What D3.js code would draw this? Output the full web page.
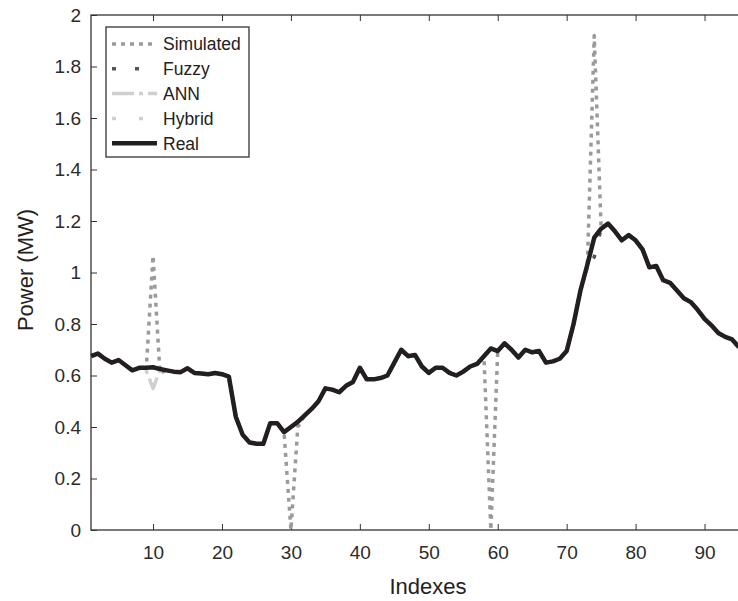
<!DOCTYPE html>
<html lang="en">
<head>
    <meta charset="UTF-8">
    <title>Power by index</title>
    <script src="https://d3js.org/d3.v7.min.js"></script>
    <style>
        body {
            margin: 0;
            background: #fff;
            font-family: "Liberation Sans", Arial, sans-serif;
        }
        .tick text {
            font-size: 19px;
            fill: #2b2b2b;
        }
        .tick line {
            stroke: #333;
        }
    </style>
</head>
<body>
    <div id="chart"></div>

    <script>
        // data (index 1..95)
        const indexes = d3.range(1, 96);

        const real = [
            0.675, 0.685, 0.665, 0.65, 0.66, 0.64, 0.62, 0.63, 0.63, 0.632,
            0.625, 0.62, 0.615, 0.613, 0.628, 0.61, 0.608, 0.605, 0.61, 0.605,
            0.596, 0.44, 0.37, 0.34, 0.335, 0.335, 0.415, 0.415, 0.38, 0.40,
            0.42, 0.445, 0.47, 0.50, 0.55, 0.545, 0.535, 0.56, 0.575, 0.63,
            0.585, 0.585, 0.59, 0.60, 0.65, 0.70, 0.675, 0.68, 0.635, 0.61,
            0.63, 0.63, 0.61, 0.60, 0.615, 0.635, 0.645, 0.675, 0.705, 0.695,
            0.725, 0.70, 0.67, 0.70, 0.69, 0.695, 0.65, 0.655, 0.665, 0.695,
            0.80, 0.93, 1.03, 1.135, 1.17, 1.19, 1.16, 1.125, 1.145, 1.125,
            1.09, 1.02, 1.025, 0.97, 0.96, 0.93, 0.90, 0.885, 0.855, 0.82,
            0.795, 0.765, 0.75, 0.74, 0.71
        ];

        const simulated = [
            0.675, 0.685, 0.665, 0.65, 0.66, 0.64, 0.62, 0.63, 0.62, 1.065,
            0.61, 0.62, 0.615, 0.613, 0.628, 0.61, 0.608, 0.605, 0.61, 0.605,
            0.596, 0.44, 0.37, 0.34, 0.335, 0.335, 0.415, 0.415, 0.38, 0.0,
            0.40, 0.445, 0.47, 0.50, 0.55, 0.545, 0.535, 0.56, 0.575, 0.63,
            0.585, 0.585, 0.59, 0.60, 0.65, 0.70, 0.675, 0.68, 0.635, 0.61,
            0.63, 0.63, 0.61, 0.60, 0.615, 0.635, 0.645, 0.675, 0.0, 0.695,
            0.725, 0.70, 0.67, 0.70, 0.69, 0.695, 0.65, 0.655, 0.665, 0.695,
            0.80, 0.93, 1.02, 1.92, 1.17, 1.19, 1.16, 1.125, 1.145, 1.125,
            1.09, 1.02, 1.025, 0.97, 0.96, 0.93, 0.90, 0.885, 0.855, 0.82,
            0.795, 0.765, 0.75, 0.74, 0.71
        ];

        const fuzzy = [
            0.675, 0.685, 0.665, 0.65, 0.66, 0.64, 0.62, 0.63, 0.63, 0.632,
            0.625, 0.62, 0.615, 0.613, 0.628, 0.61, 0.608, 0.605, 0.61, 0.605,
            0.596, 0.44, 0.37, 0.34, 0.335, 0.335, 0.415, 0.415, 0.38, 0.40,
            0.42, 0.445, 0.47, 0.50, 0.55, 0.545, 0.535, 0.56, 0.575, 0.63,
            0.585, 0.585, 0.59, 0.60, 0.65, 0.70, 0.675, 0.68, 0.635, 0.61,
            0.63, 0.63, 0.61, 0.60, 0.615, 0.635, 0.645, 0.675, 0.705, 0.695,
            0.725, 0.70, 0.67, 0.70, 0.69, 0.695, 0.65, 0.655, 0.665, 0.695,
            0.80, 0.93, 1.03, 1.06, 1.17, 1.19, 1.16, 1.125, 1.145, 1.125,
            1.09, 1.02, 1.025, 0.97, 0.96, 0.93, 0.90, 0.885, 0.855, 0.82,
            0.795, 0.765, 0.75, 0.74, 0.71
        ];

        const ann = [
            0.675, 0.685, 0.665, 0.65, 0.66, 0.64, 0.62, 0.63, 0.62, 0.55,
            0.62, 0.62, 0.615, 0.613, 0.628, 0.61, 0.608, 0.605, 0.61, 0.605,
            0.596, 0.44, 0.37, 0.34, 0.335, 0.335, 0.415, 0.415, 0.38, 0.40,
            0.42, 0.445, 0.47, 0.50, 0.55, 0.545, 0.535, 0.56, 0.575, 0.63,
            0.585, 0.585, 0.59, 0.60, 0.65, 0.70, 0.675, 0.68, 0.635, 0.61,
            0.63, 0.63, 0.61, 0.60, 0.615, 0.635, 0.645, 0.675, 0.705, 0.695,
            0.725, 0.70, 0.67, 0.70, 0.69, 0.695, 0.65, 0.655, 0.665, 0.695,
            0.80, 0.93, 1.03, 1.135, 1.17, 1.19, 1.16, 1.125, 1.145, 1.125,
            1.09, 1.02, 1.025, 0.97, 0.96, 0.93, 0.90, 0.885, 0.855, 0.82,
            0.795, 0.765, 0.75, 0.74, 0.71
        ];

        const hybrid = [
            0.675, 0.685, 0.665, 0.65, 0.66, 0.64, 0.62, 0.63, 0.63, 0.632,
            0.625, 0.62, 0.615, 0.613, 0.628, 0.61, 0.608, 0.605, 0.61, 0.605,
            0.596, 0.44, 0.37, 0.34, 0.335, 0.335, 0.415, 0.415, 0.38, 0.40,
            0.42, 0.445, 0.47, 0.50, 0.55, 0.545, 0.535, 0.56, 0.575, 0.63,
            0.585, 0.585, 0.59, 0.60, 0.65, 0.70, 0.675, 0.68, 0.635, 0.61,
            0.63, 0.63, 0.61, 0.60, 0.615, 0.635, 0.645, 0.675, 0.705, 0.695,
            0.725, 0.70, 0.67, 0.70, 0.69, 0.695, 0.65, 0.655, 0.665, 0.695,
            0.80, 0.93, 1.03, 1.135, 1.17, 1.19, 1.16, 1.125, 1.145, 1.125,
            1.09, 1.02, 1.025, 0.97, 0.96, 0.93, 0.90, 0.885, 0.855, 0.82,
            0.795, 0.765, 0.75, 0.74, 0.71
        ];

        const xTicks = [10, 20, 30, 40, 50, 60, 70, 80, 90];
        const yTicks = [0, 0.2, 0.4, 0.6, 0.8, 1, 1.2, 1.4, 1.6, 1.8, 2];

        // series, in drawing order (Real on top)
        const series = [
            { name: "Simulated", values: simulated, color: "#9a9a9a", width: 3.5, dash: "4,5" },
            { name: "Fuzzy", values: fuzzy, color: "#555", width: 3.5, dash: "4,19" },
            { name: "ANN", values: ann, color: "#cfcfcf", width: 3.5, dash: "22,5,4,5" },
            { name: "Hybrid", values: hybrid, color: "#cfcfcf", width: 3.5, dash: "4,23" },
            { name: "Real", values: real, color: "#231f20", width: 4.5, dash: null }
        ];

        // layout
        const W = 738, H = 601;
        const margin = {top: 15, right: -1, bottom: 71, left: 91};
        const width = W - margin.left - margin.right;
        const height = H - margin.top - margin.bottom;

        const svg = d3.select("#chart")
            .append("svg")
            .attr("width", W)
            .attr("height", H);

        const g = svg.append("g")
            .attr("transform", `translate(${margin.left},${margin.top})`);

        const x = d3.scaleLinear().domain([1, 95]).range([0, width]);
        const y = d3.scaleLinear().domain([0, 2]).range([height, 0]);

        // axes, ticks pointing inward like matlab
        g.append("g")
            .attr("transform", `translate(0,${height})`)
            .call(d3.axisBottom(x).tickValues(xTicks).tickSize(-6).tickPadding(16))
            .call(a => a.select(".domain").remove());

        g.append("g")
            .call(d3.axisTop(x).tickValues(xTicks).tickSize(-6).tickFormat(""))
            .call(a => a.select(".domain").remove());

        g.append("g")
            .call(d3.axisLeft(y).tickValues(yTicks).tickSize(-6).tickPadding(10)
                .tickFormat(d => d3.format("~g")(d)))
            .call(a => a.select(".domain").remove());

        // plot box
        g.append("rect")
            .attr("x", 0)
            .attr("y", 0)
            .attr("width", width)
            .attr("height", height)
            .attr("fill", "none")
            .attr("stroke", "#333")
            .attr("stroke-width", 1.3);

        // lines
        const line = d3.line()
            .x((d, i) => x(indexes[i]))
            .y(d => y(d));

        series.forEach(s => {
            g.append("path")
                .datum(s.values)
                .attr("fill", "none")
                .attr("stroke", s.color)
                .attr("stroke-width", s.width)
                .attr("stroke-dasharray", s.dash)
                .attr("stroke-linejoin", "round")
                .attr("d", line);
        });

        // axis titles
        svg.append("text")
            .attr("x", 428)
            .attr("y", 594)
            .attr("text-anchor", "middle")
            .style("font-size", "22px")
            .style("fill", "#222")
            .text("Indexes");

        svg.append("text")
            .attr("transform", "translate(33,270) rotate(-90)")
            .attr("text-anchor", "middle")
            .style("font-size", "22px")
            .style("fill", "#222")
            .text("Power (MW)");

        // legend
        const legend = svg.append("g")
            .attr("transform", "translate(106,27)");

        legend.append("rect")
            .attr("x", 0)
            .attr("y", 0)
            .attr("width", 143)
            .attr("height", 130)
            .attr("fill", "#fff")
            .attr("stroke", "#333")
            .attr("stroke-width", 1.3);

        series.forEach((s, i) => {
            const ly = 17 + i * 24.8;
            legend.append("line")
                .attr("x1", 6)
                .attr("x2", 51)
                .attr("y1", ly)
                .attr("y2", ly)
                .attr("stroke", s.color)
                .attr("stroke-width", s.width)
                .attr("stroke-dasharray", s.dash);

            legend.append("text")
                .attr("x", 57)
                .attr("y", ly)
                .attr("dy", "0.36em")
                .style("font-size", "17.5px")
                .style("fill", "#222")
                .text(s.name);
        });
    </script>
</body>
</html>
